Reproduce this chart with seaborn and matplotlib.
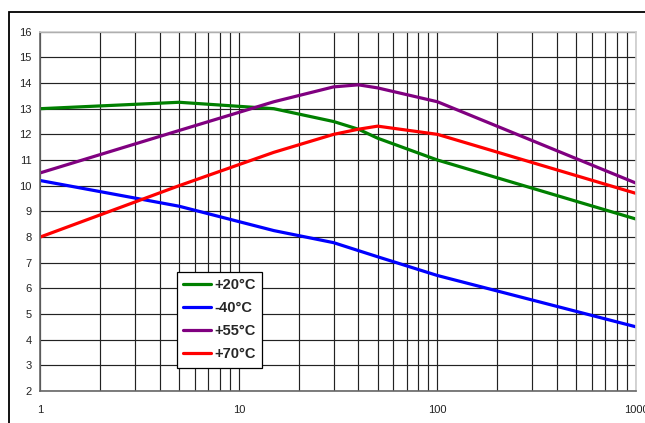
import numpy as np
import pandas as pd
import matplotlib
matplotlib.use('Agg')
import matplotlib.pyplot as plt
from matplotlib.patches import Rectangle
from matplotlib.ticker import FixedLocator, NullFormatter
import seaborn as sns

# data
x_vals = [1, 5, 15, 30, 40, 50, 100, 1000]
series_names = ['+20°C', '-40°C', '+55°C', '+70°C']
plus20 = [13.0, 13.25, 13.0, 12.5, 12.2, 11.85, 11.0, 8.7]
minus40 = [10.2, 9.2, 8.25, 7.78, 7.47, 7.23, 6.5, 4.5]
plus55 = [10.5, 12.15, 13.27, 13.85, 13.93, 13.81, 13.27, 10.1]
plus70 = [8.0, 10.0, 11.3, 12.0, 12.2, 12.32, 12.0, 9.7]
colors = ['#008000', '#0000ff', '#800080', '#ff0000']
y_ticks = list(range(2, 17))
x_ticks = [1, 10, 100, 1000]

df = pd.concat([
    pd.DataFrame({'x': x_vals, 'y': vals, 'series': name})
    for name, vals in zip(series_names, [plus20, minus40, plus55, plus70])
], ignore_index=True)

sns.set_style('white')
plt.rcParams['font.family'] = ['Liberation Sans', 'DejaVu Sans']

fig = plt.figure(figsize=(6.45, 4.23), dpi=100)
ax = fig.add_axes([40.3 / 645, 1 - 391 / 423, (636 - 40.3) / 645, (391 - 31.7) / 423])

sns.lineplot(data=df, x='x', y='y', hue='series', hue_order=series_names,
             palette=colors, linewidth=2.3, ax=ax, legend=True)

ax.set_xscale('log')
ax.set_xlim(1, 1000)
ax.set_ylim(2, 16)
ax.set_yticks(y_ticks)
ax.xaxis.set_major_locator(FixedLocator(x_ticks))
ax.set_xticklabels([str(t) for t in x_ticks])
ax.xaxis.set_minor_locator(FixedLocator([m * 10 ** d for d in range(3) for m in range(2, 10)]))
ax.xaxis.set_minor_formatter(NullFormatter())
ax.set_xlabel('')
ax.set_ylabel('')

ax.grid(True, which='major', axis='both', color='#222222', linewidth=0.85)
ax.grid(True, which='minor', axis='x', color='#222222', linewidth=0.85)
ax.set_axisbelow(True)

ax.tick_params(axis='both', which='major', labelsize=8, colors='#222222',
               length=3, width=0.8, direction='out', labelcolor='#222222')
ax.tick_params(axis='x', which='major', pad=7)
ax.tick_params(axis='y', which='major', pad=3)
ax.tick_params(axis='x', which='minor', length=0)

for side in ['left', 'bottom']:
    ax.spines[side].set_color('#666666')
    ax.spines[side].set_linewidth(1.2)
for side in ['top', 'right']:
    ax.spines[side].set_color('#cccccc')
    ax.spines[side].set_linewidth(1.2)

leg = ax.legend(loc='upper left', bbox_to_anchor=(176.7 / 645, 1 - 271.7 / 423),
                bbox_transform=fig.transFigure, frameon=True, fancybox=False,
                prop={'weight': 'bold', 'size': 10.5}, handlelength=1.9,
                handletextpad=0.2, labelspacing=0.62, borderpad=0.45,
                borderaxespad=0)
leg.get_frame().set_edgecolor('black')
leg.get_frame().set_linewidth(0.9)
leg.get_frame().set_alpha(1)
for line in leg.get_lines():
    line.set_linewidth(2.3)

# outer border that runs off the right and bottom of the image
fig.add_artist(Rectangle((9 / 645, -0.2), 1.2, 1 - 11.7 / 423 + 0.2,
                         transform=fig.transFigure, fill=False,
                         edgecolor='black', linewidth=1.3))

fig.savefig('out.png', dpi=100)
